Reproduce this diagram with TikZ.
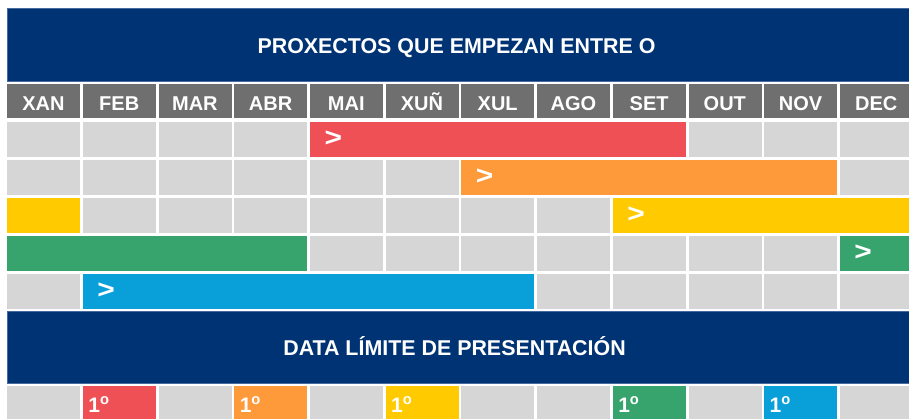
\documentclass[tikz,border=0pt]{standalone}
\usepackage{fontspec}
\setmainfont{Liberation Sans}
\definecolor{navy}{RGB}{0,51,115}
\definecolor{bannerline}{RGB}{70,105,160}
\definecolor{headgray}{RGB}{112,111,111}
\definecolor{cellgray}{RGB}{214,214,214}
\definecolor{cred}{RGB}{239,80,85}
\definecolor{corange}{RGB}{255,154,59}
\definecolor{cyellow}{RGB}{255,203,0}
\definecolor{cgreen}{RGB}{56,164,109}
\definecolor{cblue}{RGB}{9,160,217}
\begin{document}
\begin{tikzpicture}[x=1pt,y=-1pt,
  cellbox/.style={fill=cellgray, draw=none, inner sep=0pt, minimum width=73pt, minimum height=35pt, anchor=north west},
  headbox/.style={fill=headgray, draw=none, inner sep=0pt, minimum width=73pt, minimum height=34pt, anchor=north west},
  bannerbox/.style={fill=navy, draw=bannerline, line width=0.6pt, inner sep=0pt, minimum width=920pt, minimum height=73pt, anchor=north west},
  barbox/.style={draw=none, inner sep=0pt, minimum height=35pt, anchor=north west},
  lbl/.style={text=white, font=\bfseries\fontsize{20}{24}\selectfont, inner sep=0pt},
  titlelbl/.style={text=white, font=\bfseries\fontsize{21.4}{24}\selectfont, inner sep=0pt, anchor=base},
  arrowlbl/.style={text=white, font=\bfseries\fontsize{26}{30}\selectfont, inner sep=0pt, anchor=base west},
  ordlbl/.style={text=white, font=\bfseries\fontsize{21}{24}\selectfont, inner sep=0pt, anchor=base west}]
\useasboundingbox (0,0) rectangle (909,418);
\clip (0,0) rectangle (909,418);
\fill[white] (0,0) rectangle (909,418);
% banners
\node[bannerbox] (banner1) at (7,8) {};
\node[titlelbl] (title1) at (456.5,53) {PROXECTOS QUE EMPEZAN ENTRE O};
\node[bannerbox, minimum height=72pt] (banner2) at (7,311) {};
\node[titlelbl] (title2) at (454.5,355) {DATA LÍMITE DE PRESENTACIÓN};
% header months
\foreach \m [count=\i from 0] in {XAN,FEB,MAR,ABR,MAI,XUÑ,XUL,AGO,SET,OUT,NOV,DEC} {
  \pgfmathsetmacro\xl{7+75.7*\i}
  \pgfmathsetmacro\xc{\xl+36.5}
  \node[headbox] (h\i) at (\xl,84) {};
  \node[lbl, anchor=base] (hl\i) at (\xc,110) {\m};
}
% gray cells
\foreach \r in {1,...,5} {
  \foreach \i in {0,...,11} {
    \pgfmathsetmacro\xl{7+75.7*\i}
    \pgfmathsetmacro\yt{122+38*(\r-1)}
    \node[cellbox] (c\r-\i) at (\xl,\yt) {};
  }
}
% bars: row/start/end/colour/name
\foreach \r/\s/\e/\c/\n in {1/4/8/cred/barA, 2/6/10/corange/barB, 3/0/0/cyellow/barC1, 3/8/11/cyellow/barC2, 4/0/3/cgreen/barD1, 4/11/11/cgreen/barD2, 5/1/6/cblue/barE} {
  \pgfmathsetmacro\xl{7+75.7*\s}
  \pgfmathsetmacro\w{75.7*(\e-\s)+73}
  \pgfmathsetmacro\yt{122+38*(\r-1)}
  \node[barbox, fill=\c, minimum width=\w pt] (\n) at (\xl,\yt) {};
}
% start markers
\foreach \r/\s in {1/4, 2/6, 3/8, 4/11, 5/1} {
  \pgfmathsetmacro\xa{7+75.7*\s+14.5}
  \pgfmathsetmacro\yb{122+38*(\r-1)+24.5}
  \node[arrowlbl] (arr\r) at (\xa,\yb) {\scalebox{1.15}[1]{>}};
}
% bottom row
\foreach \i in {0,...,11} {
  \pgfmathsetmacro\xl{7+75.7*\i}
  \node[cellbox] (d\i) at (\xl,386) {};
}
\foreach \i/\c in {1/cred, 3/corange, 5/cyellow, 8/cgreen, 10/cblue} {
  \pgfmathsetmacro\xl{7+75.7*\i}
  \node[cellbox, fill=\c] (dc\i) at (\xl,386) {};
  \node[ordlbl] (o\i) at (\xl+5.5,412) {1\textsuperscript{o}};
}
\end{tikzpicture}
\end{document}
